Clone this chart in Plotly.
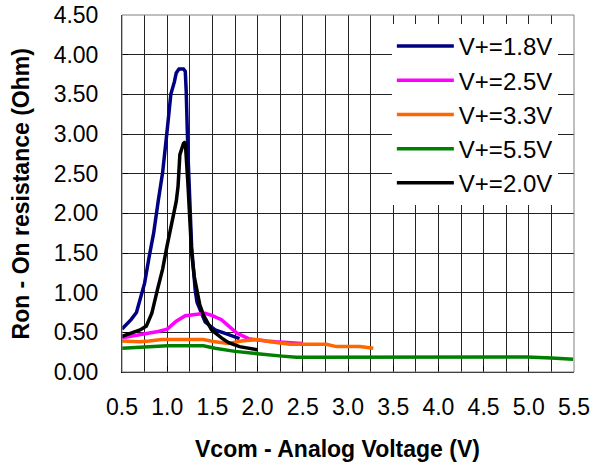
import plotly.graph_objects as go

# ---- data ----
x_18 = [0.50, 0.60, 0.66, 0.70, 0.75, 0.80, 0.85, 0.90, 0.95, 1.00, 1.04, 1.08, 1.10, 1.13, 1.18, 1.20, 1.21, 1.23, 1.25, 1.27, 1.31, 1.33, 1.42, 1.53, 1.68, 1.80]
y_18 = [0.54, 0.66, 0.75, 0.92, 1.12, 1.45, 1.75, 2.15, 2.52, 3.05, 3.50, 3.66, 3.77, 3.82, 3.82, 3.79, 3.55, 2.74, 2.20, 1.58, 1.03, 0.88, 0.63, 0.53, 0.47, 0.42]

x_20 = [0.50, 0.60, 0.70, 0.77, 0.83, 0.89, 0.95, 1.00, 1.05, 1.10, 1.12, 1.14, 1.18, 1.20, 1.23, 1.25, 1.27, 1.30, 1.33, 1.36, 1.40, 1.49, 1.60, 1.68, 1.80, 1.90, 2.00]
y_20 = [0.45, 0.49, 0.53, 0.58, 0.74, 1.03, 1.30, 1.60, 1.87, 2.15, 2.34, 2.74, 2.88, 2.90, 2.36, 2.00, 1.50, 1.20, 1.00, 0.85, 0.72, 0.53, 0.43, 0.37, 0.32, 0.30, 0.28]

x_25 = [0.50, 0.60, 0.70, 0.80, 0.90, 1.00, 1.10, 1.20, 1.30, 1.42, 1.50, 1.60, 1.70, 1.77, 1.90, 2.00, 2.10, 2.20, 2.30, 2.40, 2.50]
y_25 = [0.43, 0.45, 0.46, 0.49, 0.51, 0.54, 0.64, 0.71, 0.72, 0.74, 0.71, 0.66, 0.56, 0.49, 0.42, 0.40, 0.39, 0.38, 0.37, 0.37, 0.36]

x_33 = [0.50, 0.70, 0.80, 0.94, 1.10, 1.20, 1.30, 1.40, 1.53, 1.60, 1.68, 1.82, 2.00, 2.14, 2.30, 2.36, 2.50, 2.60, 2.76, 2.87, 3.00, 3.13, 3.28]
y_33 = [0.39, 0.38, 0.39, 0.41, 0.41, 0.41, 0.41, 0.41, 0.38, 0.37, 0.36, 0.39, 0.41, 0.38, 0.36, 0.35, 0.35, 0.35, 0.35, 0.32, 0.32, 0.32, 0.30]

x_55 = [0.50, 0.75, 1.00, 1.25, 1.40, 1.53, 1.75, 2.00, 2.14, 2.27, 2.43, 2.75, 3.00, 3.50, 4.00, 4.50, 4.98, 5.25, 5.49]
y_55 = [0.30, 0.32, 0.33, 0.33, 0.33, 0.30, 0.26, 0.23, 0.22, 0.20, 0.185, 0.185, 0.185, 0.185, 0.185, 0.185, 0.19, 0.175, 0.16]

series = [
    ("V+=1.8V", x_18, y_18, "#000080"),
    ("V+=2.5V", x_25, y_25, "#FF00FF"),
    ("V+=3.3V", x_33, y_33, "#FF6600"),
    ("V+=5.5V", x_55, y_55, "#008000"),
    ("V+=2.0V", x_20, y_20, "#000000"),
]

x_title = "Vcom - Analog Voltage (V)"
y_title = "Ron - On resistance (Ohm)"

FONT = "Liberation Sans, Arial, sans-serif"

fig = go.Figure()
for name, xs, ys, col in series:
    fig.add_trace(go.Scatter(x=xs, y=ys, mode="lines", name=name,
                             line=dict(color=col, width=3.5)))

fig.update_layout(
    width=592, height=464,
    margin=dict(l=122, r=18, t=15, b=92, autoexpand=False),
    paper_bgcolor="white", plot_bgcolor="white",
    font=dict(family=FONT, size=23, color="black"),
    showlegend=True,
    legend=dict(x=0.597, y=0.975, xanchor="left", yanchor="top",
                bgcolor="white", borderwidth=0,
                font=dict(family=FONT, size=24, color="black"),
                itemwidth=57, tracegroupgap=0),
    xaxis=dict(range=[0.5, 5.5], dtick=0.5, tick0=0.5, tickformat=".1f",
               showgrid=True, gridcolor="#222", gridwidth=1,
               minor=dict(dtick=0.25, tick0=0.5, showgrid=True, gridcolor="#222", gridwidth=1),
               ticks="inside", ticklen=6, tickcolor="black",
               showline=True, linecolor="black", linewidth=1,
               zeroline=False, ticklabelstandoff=14, automargin=False,
               ticklabeloverflow="allow", tickfont=dict(size=23)),
    yaxis=dict(range=[0, 4.5], dtick=0.5, tick0=0, tickformat=".2f",
               showgrid=True, gridcolor="#222", gridwidth=1,
               ticks="inside", ticklen=6, tickcolor="black",
               showline=True, linecolor="black", linewidth=1,
               zeroline=False, ticklabelstandoff=18, automargin=False,
               ticklabeloverflow="allow", tickfont=dict(size=23)),
)

fig.add_shape(type="rect", xref="paper", yref="paper", x0=0, y0=0, x1=1, y1=1,
              line=dict(color="#808080", width=1), layer="above")

fig.add_annotation(text="<b>" + x_title + "</b>", xref="paper", yref="paper",
                   x=0.4757, y=-0.216, xanchor="center", yanchor="middle",
                   showarrow=False, font=dict(family=FONT, size=23, color="black"))
fig.add_annotation(text="<b>" + y_title + "</b>", xref="paper", yref="paper",
                   x=-0.2235, y=0.5, xanchor="center", yanchor="middle", textangle=-90,
                   showarrow=False, font=dict(family=FONT, size=23, color="black"))

fig.write_html("out.html", config={"displayModeBar": False},
               post_script="document.body.style.margin='0';document.body.style.overflow='hidden';")
